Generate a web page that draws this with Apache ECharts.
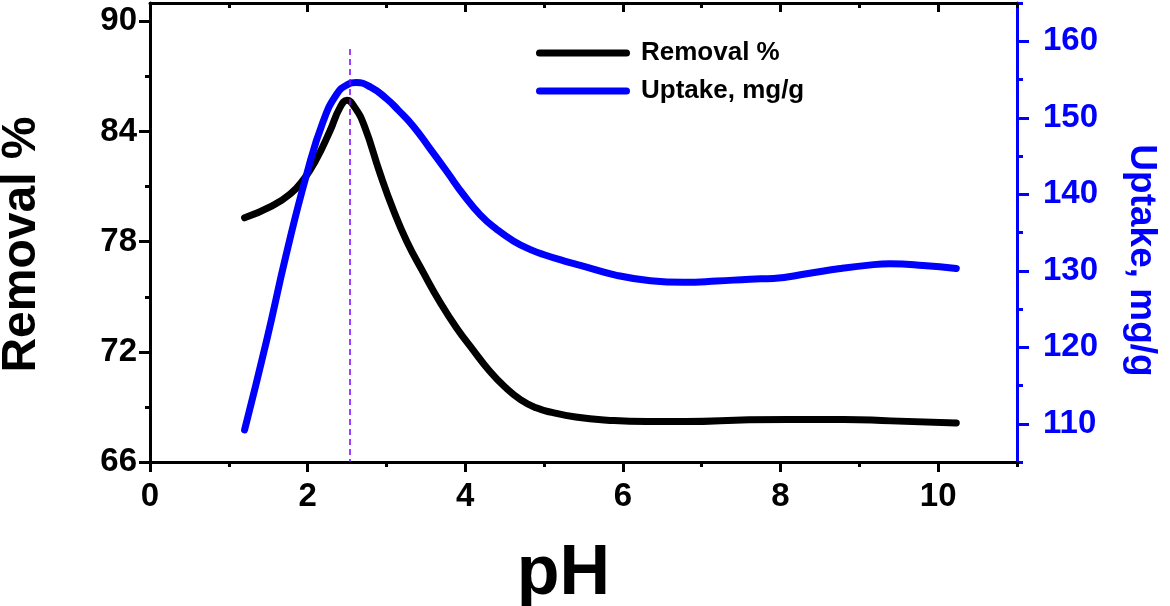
<!DOCTYPE html>
<html>
<head>
<meta charset="utf-8">
<script src="https://cdn.jsdelivr.net/npm/echarts@6/dist/echarts.min.js"></script>
<style>
    html, body { margin: 0; padding: 0; background: #fff; }
    #main { width: 1170px; height: 606px; }
</style>
</head>
<body>
<div id="main"></div>
<script>
    // 数据：从图上读出
    const removalPH = [1.2, 1.55, 1.78, 1.95, 2.1, 2.28, 2.41, 2.5, 2.6, 2.72, 2.92, 3.09, 3.26, 3.47, 3.68, 3.89, 4.1, 4.3, 4.5, 4.7, 4.9, 5.1, 5.4, 5.8, 6.3, 6.8, 7.6, 8.1, 8.8, 9.4, 10.23];
    const removal = [79.3, 79.95, 80.6, 81.4, 82.4, 84.0, 85.3, 85.7, 85.3, 84.3, 81.7, 79.7, 78.0, 76.3, 74.7, 73.3, 72.1, 71.0, 70.1, 69.4, 68.95, 68.7, 68.45, 68.28, 68.2, 68.2, 68.3, 68.32, 68.32, 68.24, 68.13];

    const uptakePH = [1.2, 1.48, 1.73, 1.99, 2.2, 2.37, 2.5, 2.62, 2.8, 3.0, 3.15, 3.34, 3.55, 3.77, 3.98, 4.19, 4.4, 4.61, 4.82, 5.03, 5.25, 5.46, 5.92, 6.35, 6.77, 7.19, 7.61, 7.91, 8.33, 8.76, 9.18, 9.39, 9.81, 10.23];
    const uptake = [109.2, 120.9, 132.2, 142.7, 149.6, 153.1, 154.3, 154.6, 154.0, 152.5, 151.0, 148.9, 146.0, 142.9, 139.9, 137.3, 135.4, 133.9, 132.8, 132.0, 131.3, 130.7, 129.4, 128.7, 128.5, 128.65, 128.9, 129.0, 129.6, 130.3, 130.8, 130.9, 130.7, 130.3];

    const peakPH = 2.53;
    const peakLineTop = 88.5;

    const xMajor = [0, 2, 4, 6, 8, 10];
    const xMinor = [1, 3, 5, 7, 9, 11];
    const leftMajor = [66, 72, 78, 84, 90];
    const leftMinor = [69, 75, 81, 87];
    const rightMajor = [110, 120, 130, 140, 150, 160];
    const rightMinor = [105, 115, 125, 135, 145, 155, 165];

    const FONT = '"Liberation Sans", Arial, sans-serif';
    const BLUE = '#0000ff';
    // 图例里的粗线
    const LEGEND_LINE = 'path://M3.5,0 H90.5 A3.5,3.5 0 0 1 90.5,7 H3.5 A3.5,3.5 0 0 1 3.5,0 Z';

    function pairs(xs, ys) {
        return xs.map((x, i) => [x, ys[i]]);
    }

    // 只画刻度的辅助轴
    function tickAxis(pos, min, max, values, len, color, inside) {
        return {
            type: 'value', position: pos, min: min, max: max,
            axisLine: { show: false, onZero: false },
            axisTick: { show: true, inside: !!inside, customValues: values, length: len, lineStyle: { color: color, width: 3 } },
            axisLabel: { show: false },
            splitLine: { show: false }
        };
    }

    var myChart = echarts.init(document.getElementById('main'));

    let option = {
        animation: false,
        backgroundColor: '#fff',
        grid: {
            left: 150, right: 153, top: 3, bottom: 144,
            containLabel: false,
            outerBoundsMode: 'none'
        },
        legend: {
            data: ['Removal %', 'Uptake, mg/g'],
            orient: 'vertical',
            left: 536,
            top: 40,
            padding: 0,
            itemWidth: 94,
            itemHeight: 14,
            itemGap: 12,
            icon: LEGEND_LINE,
            textStyle: { fontFamily: FONT, fontWeight: 'bold', fontSize: 26, color: '#000', padding: [0, 0, 0, 6] }
        },
        xAxis: [
            {
                type: 'value', position: 'bottom', min: 0, max: 11,
                name: 'pH', nameLocation: 'middle', nameGap: 78,
                nameTextStyle: { fontFamily: FONT, fontWeight: 'bold', fontSize: 70, color: '#000', padding: [0, 40, 0, 0] },
                axisLine: { onZero: false, lineStyle: { color: '#000', width: 3 } },
                axisTick: { customValues: xMajor, length: 10, lineStyle: { color: '#000', width: 3 } },
                axisLabel: { customValues: xMajor, margin: 18, fontFamily: FONT, fontWeight: 'bold', fontSize: 33, color: '#000' },
                splitLine: { show: false }
            },
            tickAxis('bottom', 0, 11, xMinor, 5, '#000', false),
            {
                type: 'value', position: 'top', min: 0, max: 11,
                axisLine: { onZero: false, lineStyle: { color: '#000', width: 3 } },
                axisTick: { inside: true, customValues: xMajor, length: 9, lineStyle: { color: '#000', width: 3 } },
                axisLabel: { show: false },
                splitLine: { show: false }
            },
            tickAxis('top', 0, 11, xMinor, 5, '#000', true)
        ],
        yAxis: [
            {
                type: 'value', position: 'left', min: 66, max: 91,
                name: 'Removal %', nameLocation: 'middle', nameGap: 104,
                nameTextStyle: { fontFamily: FONT, fontWeight: 'bold', fontSize: 48, color: '#000', padding: [0, 24, 0, 0] },
                axisLine: { onZero: false, lineStyle: { color: '#000', width: 3 } },
                axisTick: { customValues: leftMajor, length: 11, lineStyle: { color: '#000', width: 3 } },
                axisLabel: { customValues: leftMajor, margin: 13, fontFamily: FONT, fontWeight: 'bold', fontSize: 33, color: '#000' },
                splitLine: { show: false }
            },
            tickAxis('left', 66, 91, leftMinor, 5, '#000', false),
            {
                type: 'value', position: 'right', min: 105, max: 165,
                name: 'Uptake, mg/g', nameLocation: 'middle', nameGap: 106, nameRotate: -90,
                nameTextStyle: { fontFamily: FONT, fontWeight: 'bold', fontSize: 37, color: BLUE, padding: [0, 0, 0, 56] },
                axisLine: { onZero: false, lineStyle: { color: BLUE, width: 3 } },
                axisTick: { customValues: rightMajor, length: 12, lineStyle: { color: BLUE, width: 3 } },
                axisLabel: { customValues: rightMajor, margin: 26, fontFamily: FONT, fontWeight: 'bold', fontSize: 33, color: BLUE },
                splitLine: { show: false }
            },
            tickAxis('right', 105, 165, rightMinor, 6, BLUE, false)
        ],
        series: [
            {
                name: 'Removal %',
                type: 'line',
                xAxisIndex: 0,
                yAxisIndex: 0,
                data: pairs(removalPH, removal),
                smooth: 0.5,
                symbol: 'none',
                lineStyle: { color: '#000', width: 7, cap: 'round', join: 'round' },
                itemStyle: { color: '#000' }
            },
            {
                name: 'Uptake, mg/g',
                type: 'line',
                xAxisIndex: 0,
                yAxisIndex: 2,
                data: pairs(uptakePH, uptake),
                smooth: 0.5,
                symbol: 'none',
                lineStyle: { color: BLUE, width: 7, cap: 'round', join: 'round' },
                itemStyle: { color: BLUE }
            },
            {
                // 峰值处虚线
                name: 'peak',
                type: 'line',
                xAxisIndex: 0,
                yAxisIndex: 0,
                data: [],
                z: 5,
                markLine: {
                    silent: true,
                    symbol: 'none',
                    label: { show: false },
                    lineStyle: { color: '#8000ff', width: 1.5, type: [6, 4] },
                    data: [[{ coord: [peakPH, peakLineTop] }, { coord: [peakPH, 66] }]]
                }
            }
        ]
    };

    myChart.setOption(option);
</script>
</body>
</html>
